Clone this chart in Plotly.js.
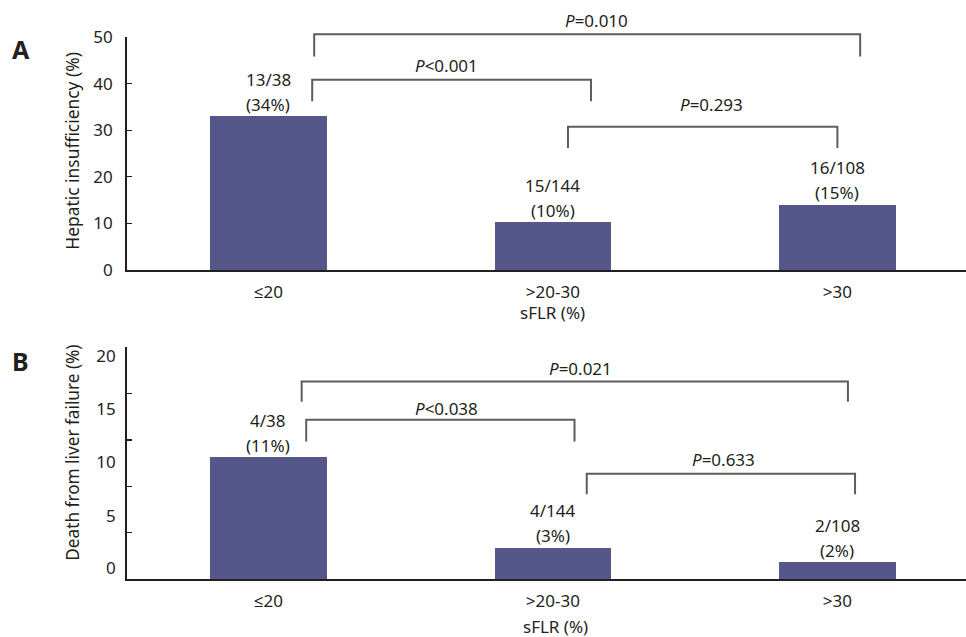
<!DOCTYPE html>
<html><head><meta charset="utf-8">
<script src="https://cdn.plot.ly/plotly-3.0.1.min.js"></script>
<style>html,body{margin:0;padding:0;background:#fff}#chart{width:966px;height:637px}</style>
</head><body><div id="chart"></div>
<script>
// ---- data ----
const categories = ['≤20', '>20-30', '>30'];
const hepaticValues = [33.0, 10.2, 14.0];
const hepaticCounts = ['13/38', '15/144', '16/108'];
const hepaticPercents = ['(34%)', '(10%)', '(15%)'];
const deathValues = [10.5, 2.7, 1.45];
const deathCounts = ['4/38', '4/144', '2/108'];
const deathPercents = ['(11%)', '(3%)', '(2%)'];
const hepaticTickVals = [0, 10, 20, 30, 40, 50];
const deathTickText = ['0', '5', '10', '15', '20'];
const hepaticPValues = ['<i>P</i>=0.010', '<i>P</i><0.001', '<i>P</i>=0.293'];
const deathPValues = ['<i>P</i>=0.021', '<i>P</i><0.038', '<i>P</i>=0.633'];
const xAxisTitle = 'sFLR (%)';
const yTitleA = 'Hepatic insufficiency (%)';
const yTitleB = 'Death from liver failure (%)';

// ---- layout geometry ----
const W = 966, H = 637;
const xDom = [126.7 / W, 1];
const xRange = [-0.498, 2.452];
const yDomA = [(H - 270) / H, (H - 37) / H];
const yDomB = [(H - 579.3) / H, (H - 347) / H];
const yRangeA = [0, 50];
const yRangeB = [0, 20];
const deathTickMarks = [0, 4, 8, 12, 16, 20];
const deathLabelPos = [0.95, 5.46, 10.06, 14.66, 19.26];

// bracket geometry: [x1, x2, yTop, yBottom, textX, textY] in category / data units
const bracketsA = [
  [0.161, 2.08, 50.6, 45.8, 1.154, 53.6],
  [0.154, 1.134, 40.8, 36.2, 0.627, 43.8],
  [1.053, 2.0, 30.75, 26.2, 1.559, 35.6]
];
const bracketsB = [
  [0.117, 2.037, 17.03, 15.28, 1.096, 18.13],
  [0.133, 1.076, 13.73, 11.86, 0.627, 14.68],
  [1.119, 2.062, 9.08, 7.33, 1.6, 10.28]
];

const FONT = 'Noto Sans, Open Sans, sans-serif';
const TXT = '#231f20';
const BAR = '#55578a';
const fs = 17;

function px(x) { return xDom[0] + (x - xRange[0]) / (xRange[1] - xRange[0]) * (xDom[1] - xDom[0]); }
function pyA(y) { return yDomA[0] + (y - yRangeA[0]) / (yRangeA[1] - yRangeA[0]) * (yDomA[1] - yDomA[0]); }
function pyB(y) { return yDomB[0] + (y - yRangeB[0]) / (yRangeB[1] - yRangeB[0]) * (yDomB[1] - yDomB[0]); }

const traces = [
  {type: 'bar', x: categories, y: hepaticValues, xaxis: 'x', yaxis: 'y',
   marker: {color: BAR}, width: 0.41, hoverinfo: 'x+y', showlegend: false},
  {type: 'bar', x: categories, y: deathValues, xaxis: 'x2', yaxis: 'y2',
   marker: {color: BAR}, width: 0.41, hoverinfo: 'x+y', showlegend: false},
  {type: 'scatter', mode: 'markers', x: [], y: [], xaxis: 'x2', yaxis: 'y3', showlegend: false, hoverinfo: 'skip'}
];

const shapes = [];
const annotations = [];
function addBrackets(list, pvals, py) {
  list.forEach((b, i) => {
    const x1 = px(b[0]), x2 = px(b[1]), yt = py(b[2]), yb = py(b[3]);
    shapes.push({type: 'path', xref: 'paper', yref: 'paper',
      path: `M ${x1},${yb} L ${x1},${yt} L ${x2},${yt} L ${x2},${yb}`,
      line: {color: '#5d5d5d', width: 2}});
    annotations.push({xref: 'paper', yref: 'paper', x: px(b[4]), y: py(b[5]),
      text: pvals[i], showarrow: false, xanchor: 'center', yanchor: 'middle',
      font: {family: FONT, size: fs, color: TXT}});
  });
}
addBrackets(bracketsA, hepaticPValues, pyA);
addBrackets(bracketsB, deathPValues, pyB);

function addBarLabels(vals, counts, pcts, xa, ya) {
  vals.forEach((v, i) => {
    annotations.push({xref: xa, yref: ya, x: categories[i], y: v, text: counts[i],
      showarrow: false, xanchor: 'center', yanchor: 'middle', yshift: 37, font: {family: FONT, size: fs, color: TXT}});
    annotations.push({xref: xa, yref: ya, x: categories[i], y: v, text: pcts[i],
      showarrow: false, xanchor: 'center', yanchor: 'middle', yshift: 12, font: {family: FONT, size: fs, color: TXT}});
  });
}
addBarLabels(hepaticValues, hepaticCounts, hepaticPercents, 'x', 'y');
addBarLabels(deathValues, deathCounts, deathPercents, 'x2', 'y2');

function paperText(xPx, yPx, text, size, extra) {
  annotations.push(Object.assign({xref: 'paper', yref: 'paper', x: xPx / W, y: (H - yPx) / H, text: text,
    showarrow: false, xanchor: 'center', yanchor: 'middle', font: {family: FONT, size: size, color: TXT}}, extra || {}));
}
// panel letters
paperText(21, 49, '<b>A</b>', 25);
paperText(20, 361, '<b>B</b>', 25);
// y titles
paperText(71.7, 151, yTitleA, 17.4, {textangle: -90});
paperText(71.7, 453, yTitleB, 17.2, {textangle: -90});
// x titles
annotations.push({xref: 'paper', yref: 'paper', x: px(1.0), y: (H - 312.7) / H, text: xAxisTitle,
  showarrow: false, xanchor: 'center', yanchor: 'middle', font: {family: FONT, size: fs, color: TXT}});
annotations.push({xref: 'paper', yref: 'paper', x: px(1.01), y: (H - 626.7) / H, text: xAxisTitle,
  showarrow: false, xanchor: 'center', yanchor: 'middle', font: {family: FONT, size: fs, color: TXT}});

const xCommon = {type: 'category', range: xRange, domain: xDom, showline: true, linecolor: TXT, linewidth: 1.5,
  ticks: '', showgrid: false, zeroline: false, tickfont: {family: FONT, size: fs, color: TXT},
  ticklabelstandoff: 6, fixedrange: true};
const yCommon = {showline: true, linecolor: TXT, linewidth: 1.5, ticks: 'inside', ticklen: 5, tickcolor: TXT,
  tickwidth: 1.2, showgrid: false, zeroline: false, tickfont: {family: FONT, size: fs, color: TXT},
  ticklabelstandoff: 9, fixedrange: true};

const layout = {
  width: W, height: H, margin: {l: 0, r: 0, t: 0, b: 0},
  paper_bgcolor: '#fff', plot_bgcolor: '#fff', showlegend: false, bargap: 0,
  xaxis: Object.assign({}, xCommon, {anchor: 'y'}),
  xaxis2: Object.assign({}, xCommon, {anchor: 'y2'}),
  yaxis: Object.assign({}, yCommon, {domain: yDomA, range: yRangeA, tickvals: hepaticTickVals, anchor: 'x'}),
  yaxis2: Object.assign({}, yCommon, {domain: yDomB, range: yRangeB, tickvals: deathTickMarks,
    showticklabels: false, anchor: 'x2'}),
  yaxis3: {overlaying: 'y2', domain: yDomB, range: yRangeB, tickvals: deathLabelPos, ticktext: deathTickText,
    showline: false, ticks: '', showgrid: false, zeroline: false, anchor: 'x2', side: 'left',
    tickfont: {family: FONT, size: fs, color: TXT}, ticklabelstandoff: 10, fixedrange: true},
  shapes: shapes, annotations: annotations
};

Plotly.newPlot('chart', traces, layout, {displayModeBar: false, staticPlot: true});
</script></body></html>
